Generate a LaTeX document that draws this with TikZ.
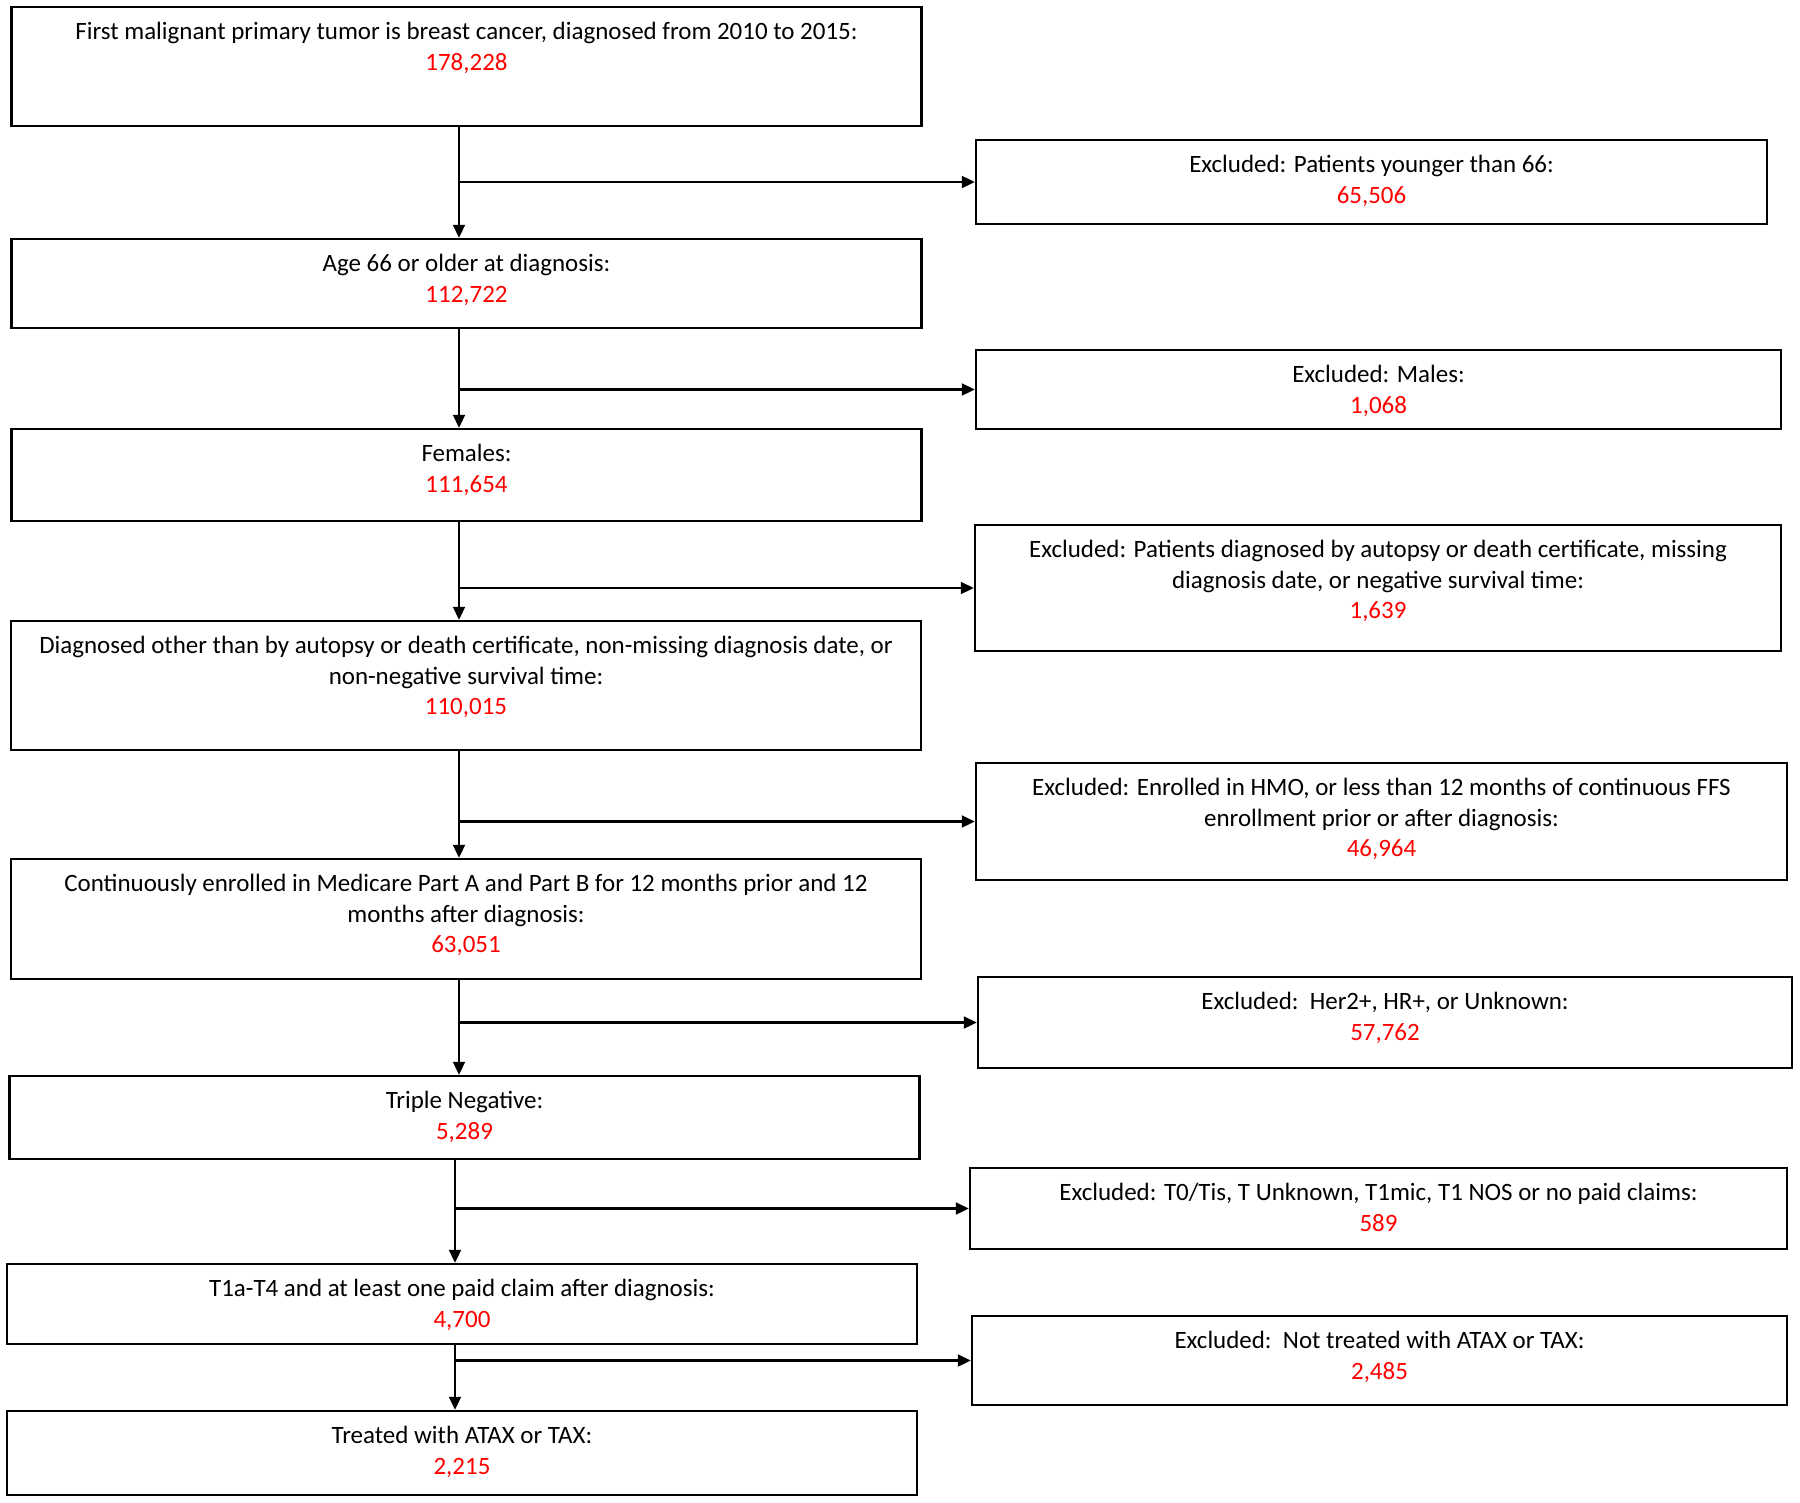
\documentclass[tikz,border=0pt]{standalone}
\usepackage{fontspec}
\setmainfont{Carlito}
\usepackage{xcolor}
\usepackage{tikz}
\usetikzlibrary{arrows.meta,positioning}
\newcommand{\npat}[1]{\textcolor{red}{#1}}

\begin{document}
\begin{tikzpicture}[
    stage/.style={rectangle, draw, line width=1.4pt, minimum width=18.2cm},
    excl/.style={rectangle, draw, line width=1.4pt},
    txt/.style={align=center, inner sep=0pt, font=\fontsize{14.2}{17.2}\selectfont},
    arrow/.style={-{Triangle[length=0.26cm, width=0.24cm]}, line width=1.2pt}
]
\useasboundingbox (0,0) rectangle (36,-30.04);

% Cohort boxes
\node[stage, minimum height=2.38cm] (B1) at (9.33,-1.33) {};
\node[stage, minimum height=1.78cm] (B2) at (9.33,-5.67) {};
\node[stage, minimum height=1.84cm] (B3) at (9.33,-9.5) {};
\node[stage, minimum height=2.58cm] (B4) at (9.32,-13.71) {};
\node[stage, minimum height=2.4cm] (B5) at (9.32,-18.38) {};
\node[stage, minimum height=1.66cm] (B6) at (9.29,-22.35) {};
\node[stage, minimum height=1.6cm] (B7) at (9.24,-26.08) {};
\node[stage, minimum height=1.68cm] (B8) at (9.24,-29.06) {};

% Exclusion boxes
\node[excl, minimum width=15.82cm, minimum height=1.68cm] (E1) at (27.43,-3.64) {};
\node[excl, minimum width=16.1cm, minimum height=1.58cm] (E2) at (27.57,-7.79) {};
\node[excl, minimum width=16.12cm, minimum height=2.52cm] (E3) at (27.56,-11.76) {};
\node[excl, minimum width=16.22cm, minimum height=2.34cm] (E4) at (27.63,-16.43) {};
\node[excl, minimum width=16.28cm, minimum height=1.82cm] (E5) at (27.7,-20.45) {};
\node[excl, minimum width=16.34cm, minimum height=1.62cm] (E6) at (27.57,-24.17) {};
\node[excl, minimum width=16.3cm, minimum height=1.78cm] (E7) at (27.59,-27.21) {};

% Texts, hung from the top of each box
\node[txt, below=0.33cm of B1.north] (T1) {First malignant primary tumor is breast cancer, diagnosed from 2010 to 2015:\\ \npat{178,228}};
\node[txt, below=0.33cm of B2.north] (T2) {Age 66 or older at diagnosis:\\ \npat{112,722}};
\node[txt, below=0.33cm of B3.north] (T3) {Females:\\ \npat{111,654}};
\node[txt, below=0.33cm of B4.north] (T4) {Diagnosed other than by autopsy or death certificate, non-missing diagnosis date, or\\ non-negative survival time:\\ \npat{110,015}};
\node[txt, below=0.33cm of B5.north] (T5) {Continuously enrolled in Medicare Part A and Part B for 12 months prior and 12\\ months after diagnosis:\\ \npat{63,051}};
\node[txt, below=0.33cm of B6.north] (T6) {Triple Negative:\\ \npat{5,289}};
\node[txt, below=0.33cm of B7.north] (T7) {T1a-T4 and at least one paid claim after diagnosis:\\ \npat{4,700}};
\node[txt, below=0.33cm of B8.north] (T8) {Treated with ATAX or TAX:\\ \npat{2,215}};

\node[txt, below=0.33cm of E1.north] (X1) {Excluded: Patients younger than 66:\\ \npat{65,506}};
\node[txt, below=0.33cm of E2.north] (X2) {Excluded: Males:\\ \npat{1,068}};
\node[txt, below=0.33cm of E3.north] (X3) {Excluded: Patients diagnosed by autopsy or death certificate, missing\\ diagnosis date, or negative survival time:\\ \npat{1,639}};
\node[txt, below=0.33cm of E4.north] (X4) {Excluded: Enrolled in HMO, or less than 12 months of continuous FFS\\ enrollment prior or after diagnosis:\\ \npat{46,964}};
\node[txt, below=0.33cm of E5.north] (X5) {Excluded:\ \ Her2+, HR+, or Unknown:\\ \npat{57,762}};
\node[txt, below=0.33cm of E6.north] (X6) {Excluded: T0/Tis, T Unknown, T1mic, T1 NOS or no paid claims:\\ \npat{589}};
\node[txt, below=0.33cm of E7.north] (X7) {Excluded:\ \ Not treated with ATAX or TAX:\\ \npat{2,485}};

% Trunk lines
\coordinate (ta) at (9.18,0);
\coordinate (tb) at (9.1,0);

% Arrows: down the cohort
\draw[arrow] (B1.south -| ta) -- (B2.north -| ta);
\draw[arrow] (B2.south -| ta) -- (B3.north -| ta);
\draw[arrow] (B3.south -| ta) -- (B4.north -| ta);
\draw[arrow] (B4.south -| ta) -- (B5.north -| ta);
\draw[arrow] (B5.south -| ta) -- (B6.north -| ta);
\draw[arrow] (B6.south -| tb) -- (B7.north -| tb);
\draw[arrow] (B7.south -| tb) -- (B8.north -| tb);

% Arrows: exclusions
\draw[arrow] (E1.west -| ta) -- (E1.west);
\draw[arrow] (E2.west -| ta) -- (E2.west);
\draw[arrow] (E3.west -| ta) -- (E3.west);
\draw[arrow] (E4.west -| ta) -- (E4.west);
\draw[arrow] (E5.west -| ta) -- (E5.west);
\draw[arrow] (E6.west -| tb) -- (E6.west);
\draw[arrow] (E7.west -| tb) -- (E7.west);

\end{tikzpicture}
\end{document}
